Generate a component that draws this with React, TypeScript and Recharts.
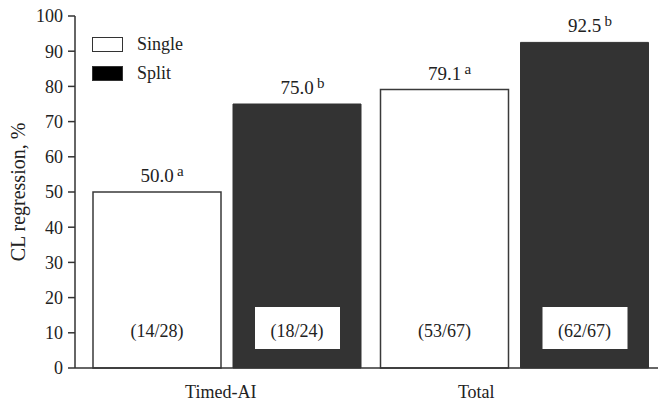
import { Bar, BarChart, LabelList, Legend, XAxis, YAxis } from "recharts";

const categories = ["Timed-AI", "Total"];
const singleValues = [50.0, 79.1];
const splitValues = [75.0, 92.5];
const singleLetters = ["a", "a"];
const splitLetters = ["b", "b"];
const singleCounts = ["(14/28)", "(53/67)"];
const splitCounts = ["(18/24)", "(62/67)"];
const yTicks = [0, 10, 20, 30, 40, 50, 60, 70, 80, 90, 100];

const data = categories.map((cat, i) => ({
  cat,
  single: singleValues[i],
  split: splitValues[i],
}));

const FONT = "'Liberation Serif', 'Times New Roman', serif";
const INK = "#222";
const DARK = "#333";
const tickDx = [-6, -38];

function valueLabel(letters: string[]) {
  return (props: any) => {
    const { x, y, width, value, index } = props;
    const cx = Number(x) + Number(width) / 2;
    const top = Number(y);
    return (
      <g>
        <text x={cx} y={top - 10} textAnchor="middle" fontSize={19} fill={INK}>
          {Number(value).toFixed(1)}
        </text>
        <text x={cx + 20} y={top - 16} fontSize={15} fill={INK}>
          {letters[index]}
        </text>
      </g>
    );
  };
}

function countLabel(counts: string[], boxed: boolean) {
  return (props: any) => {
    const { x, y, width, height, index } = props;
    const cx = Number(x) + Number(width) / 2;
    const bottom = Number(y) + Number(height);
    return (
      <g>
        {boxed && <rect x={cx - 42} y={bottom - 61} width={85} height={42} fill="#fff" />}
        <text x={cx} y={bottom - 31} textAnchor="middle" fontSize={18} fill={INK}>
          {counts[index]}
        </text>
      </g>
    );
  };
}

function CategoryTick(props: any) {
  const { x, y, payload, index } = props;
  return (
    <text x={x + (tickDx[index] ?? 0)} y={y + 30} textAnchor="middle" fontSize={18} fill={INK}>
      {payload.value}
    </text>
  );
}

function YTitle(props: any) {
  const vb = props.viewBox || {};
  const cy = (vb.y ?? 16) + (vb.height ?? 352) / 2;
  return (
    <text
      x={18}
      y={cy}
      transform={`rotate(-90, 18, ${cy})`}
      textAnchor="middle"
      dominantBaseline="central"
      fontSize={20}
      fill={INK}
    >
      CL regression, %
    </text>
  );
}

function LegendBox(props: any) {
  const items = props.payload || [];
  return (
    <div style={{ fontFamily: FONT, fontSize: 18, color: INK }}>
      {items.map((it: any) => {
        const isSplit = it.dataKey === "split";
        return (
          <div key={it.value} style={{ display: "flex", alignItems: "center", height: 29 }}>
            <span
              style={{
                display: "inline-block",
                width: 29,
                height: 13,
                background: isSplit ? "#000" : "#fff",
                border: "1px solid #333",
                marginRight: 14,
              }}
            />
            <span>{it.value}</span>
          </div>
        );
      })}
    </div>
  );
}

export default function App() {
  return (
    <div style={{ position: "fixed", left: 0, top: 0, width: 658, height: 402, background: "#fff", fontFamily: FONT }}>
      <BarChart
        width={658}
        height={402}
        data={data}
        margin={{ top: 16, right: 0, bottom: 0, left: 0 }}
        barSize={128}
        barGap={12}
      >
        <XAxis
          dataKey="cat"
          tickLine={false}
          axisLine={{ stroke: DARK, strokeWidth: 1.5 }}
          padding={{ left: 8, right: 0 }}
          height={34}
          tickSize={0}
          tickMargin={0}
          tick={<CategoryTick />}
          interval={0}
        />
        <YAxis
          domain={[0, 100]}
          ticks={yTicks}
          interval={0}
          width={75}
          tickSize={7}
          tickMargin={5}
          axisLine={{ stroke: DARK, strokeWidth: 1.5 }}
          tickLine={{ stroke: DARK, strokeWidth: 1.5 }}
          tick={{ fontSize: 18, fill: INK, fontFamily: FONT }}
          label={<YTitle />}
        />
        <Legend
          layout="vertical"
          verticalAlign="middle"
          align="center"
          content={<LegendBox />}
          wrapperStyle={{ top: 30, left: 92, width: 140, height: 60 }}
        />
        <Bar
          dataKey="single"
          name="Single"
          fill="#fff"
          stroke="#3a3a3a"
          strokeWidth={1.5}
          isAnimationActive={false}
        >
          <LabelList dataKey="single" content={valueLabel(singleLetters)} />
          <LabelList dataKey="single" content={countLabel(singleCounts, false)} />
        </Bar>
        <Bar
          dataKey="split"
          name="Split"
          fill={DARK}
          stroke={DARK}
          strokeWidth={1}
          isAnimationActive={false}
        >
          <LabelList dataKey="split" content={valueLabel(splitLetters)} />
          <LabelList dataKey="split" content={countLabel(splitCounts, true)} />
        </Bar>
      </BarChart>
    </div>
  );
}
